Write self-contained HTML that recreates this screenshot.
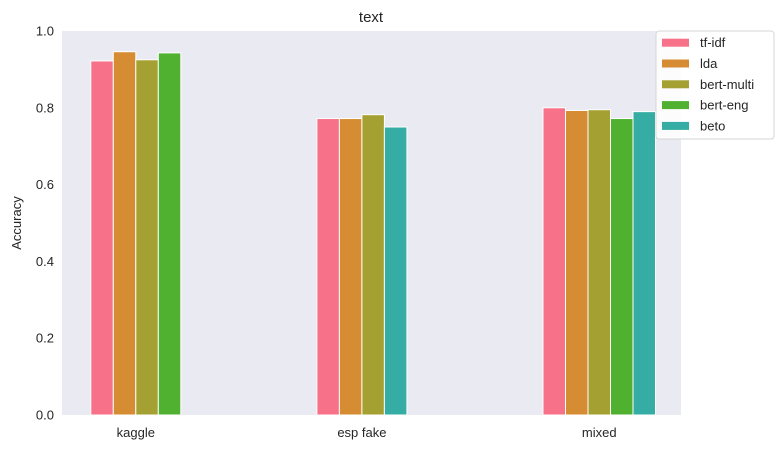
<!DOCTYPE html>
<html><head><meta charset="utf-8"><style>
body{margin:0;background:#fff;}
svg{display:block;font-family:"Liberation Sans","DejaVu Sans",sans-serif;}
</style></head><body>
<svg id="chart" width="784" height="449">
<rect x="62" y="31" width="619" height="384" fill="#eaeaf2"/>
<text x="371" y="22" text-anchor="middle" font-size="15" fill="#262626">text</text>
<text transform="translate(21,223) rotate(-90)" text-anchor="middle" font-size="13" fill="#262626">Accuracy</text>
<g id="yticks"></g><g id="bars"></g><g id="xticks"></g><g id="legend"></g>
</svg>
<script>
const categories = ["kaggle", "esp fake", "mixed"];
const seriesNames = ["tf-idf", "lda", "bert-multi", "bert-eng", "beto"];
const colors = ["#f77189", "#d58c32", "#a4a031", "#50b131", "#36ada4"];
const tfidf = [0.922, 0.772, 0.800];
const lda = [0.946, 0.772, 0.793];
const bertMulti = [0.925, 0.782, 0.795];
const bertEng = [0.943, null, 0.772];
const beto = [null, 0.750, 0.790];
const yTicks = [0, 0.2, 0.4, 0.6, 0.8, 1.0];
const yTickLabels = ["0.0", "0.2", "0.4", "0.6", "0.8", "1.0"];

const series = [tfidf, lda, bertMulti, bertEng, beto];
const NS = "http://www.w3.org/2000/svg";
const y = v => 415 - v * 384;
const xStart = i => 90.8 + i * 226.1;
const bw = 22.5;
function mk(tag, attrs, parent) {
  const e = document.createElementNS(NS, tag);
  for (const k in attrs) e.setAttribute(k, attrs[k]);
  parent.appendChild(e); return e;
}
const yg = document.getElementById('yticks');
yTicks.forEach((t, i) => {
  const tx = mk('text', {x: 54, y: y(t) + 4.5, 'text-anchor': 'end', 'font-size': 13, fill: '#262626'}, yg);
  tx.textContent = yTickLabels[i];
  
  
});
const bg = document.getElementById('bars');
const xg = document.getElementById('xticks');
categories.forEach((c, ci) => {
  const present = [];
  series.forEach((s, si) => { if (s[ci] !== null && s[ci] !== undefined) present.push(si); });
  const start = xStart(ci);
  present.forEach((si, k) => {
    const v = series[si][ci];
    const r = mk('rect', {x: start + k * bw, y: y(v), width: bw, height: y(0) - y(v), fill: colors[si], stroke: '#fff', 'stroke-width': 1}, bg);
    
    
  });
  const tx = mk('text', {x: start + present.length * bw / 2, y: 437, 'text-anchor': 'middle', 'font-size': 13, fill: '#262626'}, xg);
  tx.textContent = c;
  
  
});
const lg = document.getElementById('legend');
const box = mk('rect', {x: 656, y: 31, width: 118, height: 108, rx: 3, fill: '#fff', 'fill-opacity': 0.85, stroke: '#d6d6d6'}, lg);


seriesNames.forEach((n, i) => {
  const cy = 42.7 + i * 20.8;
  const p = mk('rect', {x: 662, y: cy - 4, width: 27, height: 8, fill: colors[i]}, lg);
  
  
  const t = mk('text', {x: 700, y: cy + 4.5, 'font-size': 13, fill: '#262626'}, lg);
  t.textContent = n;
  
  
});
</script>
</body></html>
